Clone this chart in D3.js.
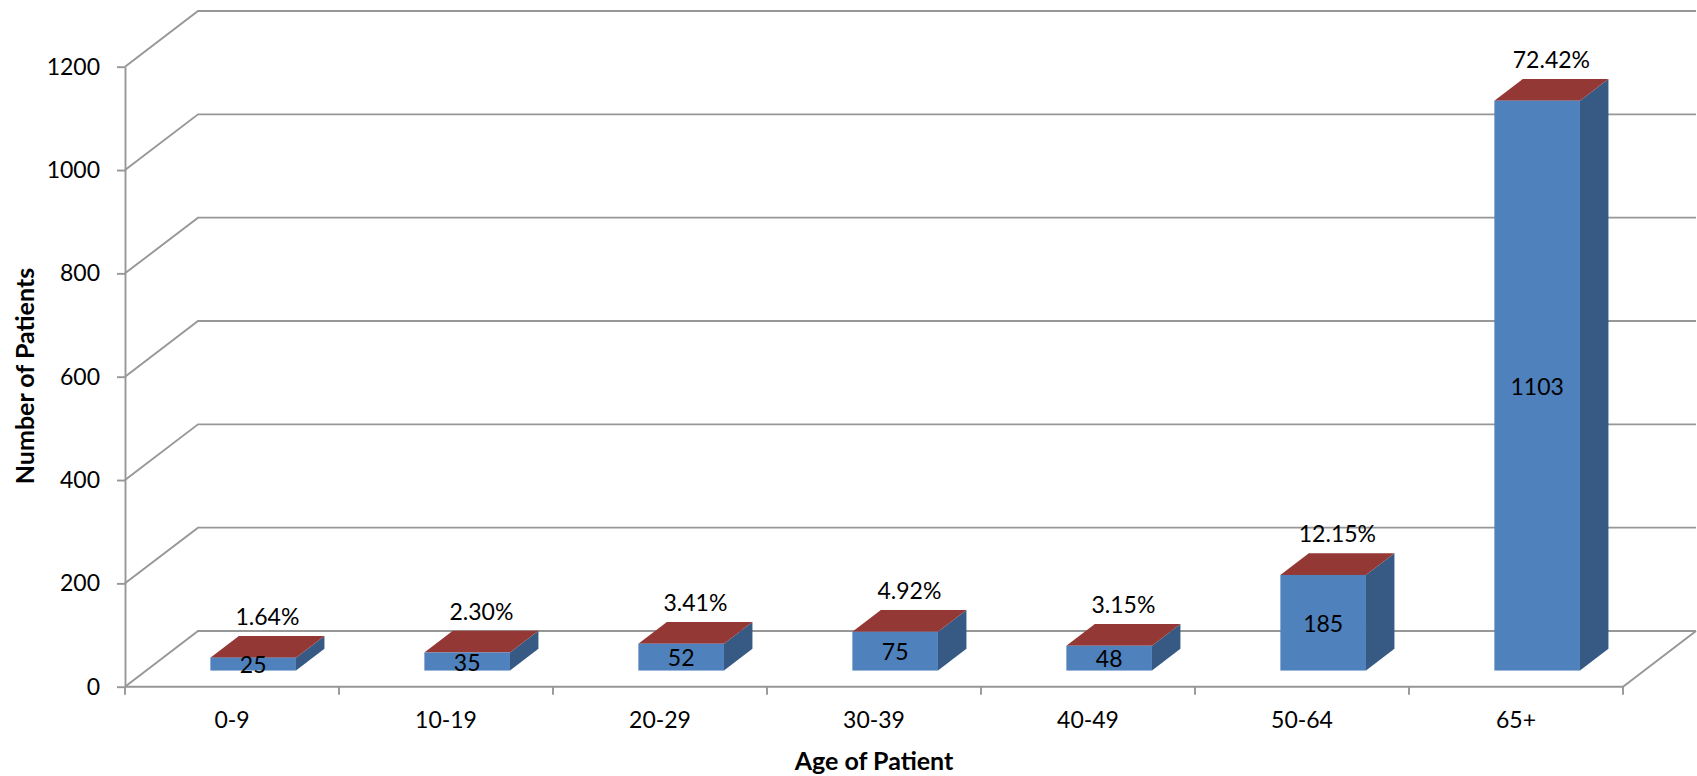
<!DOCTYPE html>
<html>
<head>
<meta charset="utf-8">
<script src="https://cdn.jsdelivr.net/npm/d3@7"></script>
<style>
  html, body { margin: 0; padding: 0; background: #ffffff; }
  svg { display: block; }
  text { font-family: Lato, "Open Sans", "Liberation Sans", sans-serif; fill: #000; }
</style>
</head>
<body>
<svg id="chart" width="1697" height="776"></svg>
<script>
// Patients by age group
const categories = ["0-9", "10-19", "20-29", "30-39", "40-49", "50-64", "65+"];
const patients = [25, 35, 52, 75, 48, 185, 1103];
const yTicks = [0, 200, 400, 600, 800, 1000, 1200];
const yTitle = "Number of Patients";
const xTitle = "Age of Patient";

const svg = d3.select("#chart");
const labelSize = 23, titleSize = 25;

// plot frame (front plane) and oblique depth of the 3-D box
const plotLeft = 125, plotRight = 1623, plotBottom = 686.7, plotTop = 66.7;
const depth = { dx: 73, dy: -55.7 };
const barFront = 0.29, barBack = 0.68;   // bar position within the depth

const y = d3.scaleLinear().domain([0, 1200]).range([plotBottom, plotTop]);
const x = d3.scaleBand().domain(categories).range([plotLeft, plotRight]).padding(0);
const barW = x.bandwidth() * 0.4;
const barX = c => x(c) + (x.bandwidth() - barW) / 2;

const proj = (px, py, d) => [px + d * depth.dx, py + d * depth.dy];

const gridColor = "#979797";
const grid = svg.append("g").attr("fill", "none").attr("stroke", gridColor).attr("stroke-width", 1.9);

// side wall diagonals + back wall gridlines
yTicks.forEach(v => {
  const [bx, by] = proj(plotLeft, y(v), 1);
  grid.append("path")
    .attr("d", `M${plotLeft},${y(v)}L${bx},${by}L${proj(plotRight, y(v), 1)[0]},${by}`);
});
// floor outline
{
  const [bx, by] = proj(plotRight, plotBottom, 1);
  grid.append("path").attr("d", `M${bx},${by}L${plotRight},${plotBottom}L${plotLeft},${plotBottom}`);
}

// y axis with ticks and labels
const yAxis = svg.append("g")
  .attr("transform", `translate(${plotLeft},0)`)
  .call(d3.axisLeft(y).tickValues(yTicks).tickSize(8).tickSizeOuter(0).tickPadding(17).tickFormat(d3.format("d")));
yAxis.select(".domain").attr("stroke", gridColor).attr("stroke-width", 1.9);
yAxis.selectAll(".tick line").attr("stroke", gridColor).attr("stroke-width", 1.9);
yAxis.selectAll(".tick text").attr("font-size", labelSize).attr("font-family", "Lato, sans-serif").attr("fill", "#000");

// x axis: ticks at category boundaries, labels at centres
const bounds = categories.map(c => x(c)).concat([plotRight]);
svg.append("g").selectAll("line").data(bounds).join("line")
  .attr("x1", d => d).attr("x2", d => d)
  .attr("y1", plotBottom).attr("y2", plotBottom + 8)
  .attr("stroke", gridColor).attr("stroke-width", 1.9);

const xAxis = svg.append("g")
  .attr("transform", `translate(0,${plotBottom})`)
  .call(d3.axisBottom(x).tickSize(0).tickPadding(25));
xAxis.select(".domain").remove();
xAxis.selectAll(".tick text").attr("font-size", labelSize).attr("font-family", "Lato, sans-serif").attr("fill", "#000");

// 3-D bars
const colFront = "#4f81bd", colSide = "#375a85", colTop = "#943836";
const total = d3.sum(patients);
const data = categories.map((c, i) => ({ c, v: patients[i] }));

const bars = svg.append("g").selectAll("g").data(data).join("g");
bars.each(function (d) {
  const g = d3.select(this);
  const x0 = barX(d.c), x1 = x0 + barW;
  const yb = y(0), yt = y(d.v);
  const P = (px, py, dd) => proj(px, py, dd).join(",");
  // side face
  g.append("path").attr("fill", colSide)
    .attr("d", `M${P(x1, yb, barFront)}L${P(x1, yb, barBack)}L${P(x1, yt, barBack)}L${P(x1, yt, barFront)}Z`);
  // top face
  g.append("path").attr("fill", colTop)
    .attr("d", `M${P(x0, yt, barFront)}L${P(x1, yt, barFront)}L${P(x1, yt, barBack)}L${P(x0, yt, barBack)}Z`);
  // front face
  const [fx, fy] = proj(x0, yt, barFront);
  g.append("rect").attr("fill", colFront)
    .attr("x", fx).attr("y", fy)
    .attr("width", barW).attr("height", yb - yt);
});

// value labels on the front faces
svg.append("g").selectAll("text").data(data).join("text")
  .attr("x", d => proj(barX(d.c) + barW / 2, 0, barFront)[0])
  .attr("y", d => proj(0, (y(0) + y(d.v)) / 2, barFront)[1])
  .attr("text-anchor", "middle")
  .attr("dominant-baseline", "central")
  .attr("font-size", labelSize)
  .text(d => d.v);

// share labels above the bars
svg.append("g").selectAll("text").data(data).join("text")
  .attr("x", d => proj(barX(d.c) + barW / 2, 0, (barFront + barBack) / 2)[0])
  .attr("y", d => proj(0, y(d.v), barBack)[1] - 20)
  .attr("text-anchor", "middle")
  .attr("dominant-baseline", "central")
  .attr("font-size", labelSize)
  .text(d => (d.v / total * 100).toFixed(2) + "%");

// axis titles
svg.append("text")
  .attr("transform", `translate(24,376) rotate(-90)`)
  .attr("text-anchor", "middle")
  .attr("dominant-baseline", "central")
  .attr("font-size", titleSize).attr("font-weight", "bold")
  .text(yTitle);

svg.append("text")
  .attr("x", (plotLeft + plotRight) / 2).attr("y", 760)
  .attr("text-anchor", "middle")
  .attr("dominant-baseline", "central")
  .attr("font-size", titleSize).attr("font-weight", "bold")
  .text(xTitle);
</script>
</body>
</html>
